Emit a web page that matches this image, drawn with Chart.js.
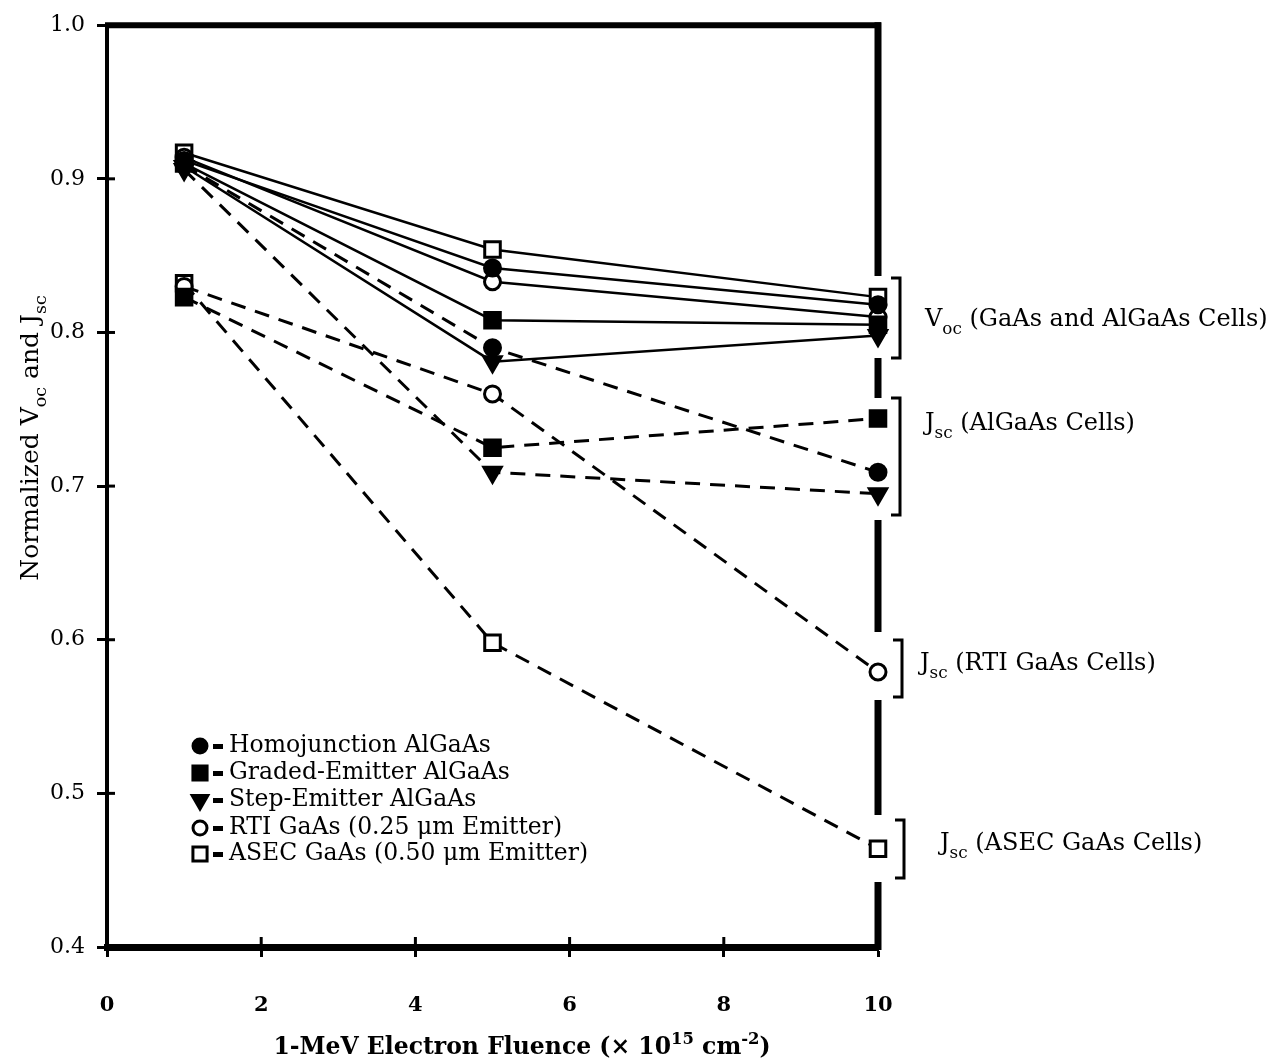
<!DOCTYPE html>
<html>
<head>
<meta charset="utf-8">
<script src="https://cdn.jsdelivr.net/npm/chart.js@4.4.1/dist/chart.umd.min.js"></script>
<style>
  html, body { margin: 0; padding: 0; background: #fff; }
  #wrap { width: 1275px; height: 1064px; }
</style>
</head>
<body>
<div id="wrap"><canvas id="chart" width="1275" height="1064"></canvas></div>
<script>
// Fluence points (x 10^15 cm^-2)
const fluence = [1, 5, 10];

// Normalized Voc (solid lines)
const vocHomo   = [0.912, 0.842, 0.818];
const vocGraded = [0.910, 0.808, 0.805];
const vocStep   = [0.908, 0.781, 0.798];
const vocRti    = [0.914, 0.833, 0.810];
const vocAsec   = [0.917, 0.854, 0.823];

// Normalized Jsc (dashed lines)
const jscHomo   = [0.909, 0.790, 0.709];
const jscGraded = [0.823, 0.725, 0.744];
const jscStep   = [0.906, 0.709, 0.695];
const jscRti    = [0.830, 0.760, 0.579];
const jscAsec   = [0.832, 0.598, 0.464];

// Axis ticks
const xTicks = [0, 2, 4, 6, 8, 10];
const yTicks = [0.4, 0.5, 0.6, 0.7, 0.8, 0.9, 1.0];

// Legend names
const cellNames = [
  "Homojunction AlGaAs",
  "Graded-Emitter AlGaAs",
  "Step-Emitter AlGaAs",
  "RTI GaAs (0.25 \u03bcm Emitter)",
  "ASEC GaAs (0.50 \u03bcm Emitter)"
];

const SERIF = '"DejaVu Serif", "Liberation Serif", serif';

// marker look for each cell type
const markers = [
  { pointStyle: "circle",   radius: 8,  fill: "#000", rotation: 0 },
  { pointStyle: "rect",     radius: 11, fill: "#000", rotation: 0 },
  { pointStyle: "triangle", radius: 10, fill: "#000", rotation: 180 },
  { pointStyle: "circle",   radius: 8,  fill: "#fff", rotation: 0 },
  { pointStyle: "rect",     radius: 11, fill: "#fff", rotation: 0 }
];

function series(values, m, dashed) {
  return {
    data: values.map((v, i) => ({ x: fluence[i], y: v })),
    borderColor: "#000",
    borderWidth: dashed ? 3 : 2.5,
    borderDash: dashed ? [15, 10] : [],
    pointStyle: m.pointStyle,
    pointRotation: m.rotation,
    pointRadius: m.radius,
    pointBackgroundColor: m.fill,
    pointBorderColor: "#000",
    pointBorderWidth: 3,
    tension: 0,
    fill: false,
    clip: false
  };
}

const vocSets = [vocHomo, vocGraded, vocStep, vocRti, vocAsec];
const jscSets = [jscHomo, jscGraded, jscStep, jscRti, jscAsec];
const datasets = [];
jscSets.forEach((d, i) => datasets.push(series(d, markers[i], true)));
vocSets.forEach((d, i) => datasets.push(series(d, markers[i], false)));

// draw text with sub/superscript pieces
function richWidth(ctx, parts, size, bold) {
  let w = 0;
  parts.forEach(p => {
    const s = p[1] ? size * 0.7 : size;
    ctx.font = (bold ? "bold " : "") + s + "px " + SERIF;
    w += ctx.measureText(p[0]).width;
  });
  return w;
}
function drawRich(ctx, parts, x, y, size, bold) {
  let cx = x;
  parts.forEach(p => {
    const s = p[1] ? size * 0.7 : size;
    let dy = 0;
    if (p[1] === "sub") dy = size * 0.32;
    if (p[1] === "sup") dy = -size * 0.42;
    ctx.font = (bold ? "bold " : "") + s + "px " + SERIF;
    ctx.fillText(p[0], cx, y + dy);
    cx += ctx.measureText(p[0]).width;
  });
}

const decor = {
  id: "decor",
  beforeDatasetsDraw(chart) {
    const ctx = chart.ctx;
    const a = chart.chartArea;
    ctx.save();
    ctx.strokeStyle = "#000";
    ctx.lineCap = "butt";

    // top frame
    ctx.lineWidth = 6;
    ctx.beginPath();
    ctx.moveTo(a.left - 2, a.top);
    ctx.lineTo(a.right + 3, a.top);
    ctx.stroke();

    // right frame, broken where the brackets are
    ctx.lineWidth = 7;
    [[a.top - 3, 276], [358, 398], [520, 632], [700, 815], [882, a.bottom + 3]].forEach(s => {
      ctx.beginPath();
      ctx.moveTo(a.right, s[0]);
      ctx.lineTo(a.right, s[1]);
      ctx.stroke();
    });

    // tick marks poking into the plot
    ctx.lineWidth = 3;
    const xs = chart.scales.x, ys = chart.scales.y;
    yTicks.forEach(v => {
      const y = ys.getPixelForValue(v);
      ctx.beginPath();
      ctx.moveTo(a.left, y);
      ctx.lineTo(a.left + 8, y);
      ctx.stroke();
    });
    xTicks.forEach(v => {
      const x = xs.getPixelForValue(v);
      ctx.beginPath();
      ctx.moveTo(x, a.bottom);
      ctx.lineTo(x, a.bottom - 10);
      ctx.stroke();
    });
    ctx.restore();
  },
  afterDraw(chart) {
    const ctx = chart.ctx;
    ctx.save();
    ctx.strokeStyle = "#000";
    ctx.fillStyle = "#000";

    // brackets
    ctx.lineWidth = 3;
    [[900, 278, 358], [900, 398, 515], [902, 640, 697], [904, 820, 878]].forEach(b => {
      ctx.beginPath();
      ctx.moveTo(b[0] - 9, b[1]);
      ctx.lineTo(b[0], b[1]);
      ctx.lineTo(b[0], b[2]);
      ctx.lineTo(b[0] - 9, b[2]);
      ctx.stroke();
    });

    // group labels
    ctx.textAlign = "left";
    ctx.textBaseline = "alphabetic";
    drawRich(ctx, [["V"], ["oc", "sub"], [" (GaAs and AlGaAs Cells)"]], 925, 326, 24);
    drawRich(ctx, [["J"], ["sc", "sub"], [" (AlGaAs Cells)"]], 925, 430, 24);
    drawRich(ctx, [["J"], ["sc", "sub"], [" (RTI GaAs Cells)"]], 920, 670, 24);
    drawRich(ctx, [["J"], ["sc", "sub"], [" (ASEC GaAs Cells)"]], 940, 850, 24);

    // y title
    const yParts = [["Normalized V"], ["oc", "sub"], [" and J"], ["sc", "sub"]];
    const yw = richWidth(ctx, yParts, 25, false);
    ctx.save();
    ctx.translate(38, 438);
    ctx.rotate(-Math.PI / 2);
    drawRich(ctx, yParts, -yw / 2, 0, 25, false);
    ctx.restore();

    // x title
    const xParts = [["1-MeV Electron Fluence (\u00d7 10"], ["15", "sup"], [" cm"], ["-2", "sup"], [")"]];
    const xw = richWidth(ctx, xParts, 23.5, true);
    drawRich(ctx, xParts, 522 - xw / 2, 1054, 23.5, true);

    // legend
    const rows = [746, 773, 800, 828, 854];
    cellNames.forEach((name, i) => {
      const m = markers[i];
      ctx.fillStyle = m.fill;
      ctx.strokeStyle = "#000";
      ctx.lineWidth = 3;
      Chart.helpers.drawPoint(ctx, {
        pointStyle: m.pointStyle,
        rotation: m.rotation,
        radius: m.radius - 1,
        borderWidth: 3
      }, 200, rows[i]);
      ctx.fillStyle = "#000";
      ctx.fillRect(213, rows[i] - 2, 10, 5);
      ctx.textBaseline = "middle";
      ctx.font = "23.5px " + SERIF;
      ctx.fillText(name, 229, rows[i]);
    });
    ctx.restore();
  }
};

new Chart(document.getElementById("chart"), {
  type: "line",
  data: { datasets: datasets },
  options: {
    responsive: false,
    animation: false,
    events: [],
    layout: { padding: { top: 24, right: 397, left: 0, bottom: 0 } },
    plugins: {
      legend: { display: false },
      tooltip: { enabled: false }
    },
    scales: {
      x: {
        type: "linear",
        min: 0,
        max: 10,
        afterBuildTicks(scale) { scale.ticks = xTicks.map(v => ({ value: v })); },
        afterFit(scale) { scale.height = 117; },
        border: { display: true, width: 7, color: "#000" },
        grid: { drawOnChartArea: false, drawTicks: true, tickLength: 10, tickWidth: 3, color: "#000" },
        ticks: {
          color: "#000",
          padding: 36,
          font: { family: SERIF, size: 21, weight: "bold" }
        }
      },
      y: {
        min: 0.4,
        max: 1.0,
        afterBuildTicks(scale) { scale.ticks = yTicks.map(v => ({ value: v })); },
        afterFit(scale) { scale.width = 107; },
        border: { display: true, width: 4, color: "#000" },
        grid: { drawOnChartArea: false, drawTicks: true, tickLength: 10, tickWidth: 3, color: "#000" },
        ticks: {
          color: "#000",
          padding: 12,
          font: { family: SERIF, size: 22 },
          callback: v => v.toFixed(1)
        }
      }
    }
  },
  plugins: [decor]
});
</script>
</body>
</html>
